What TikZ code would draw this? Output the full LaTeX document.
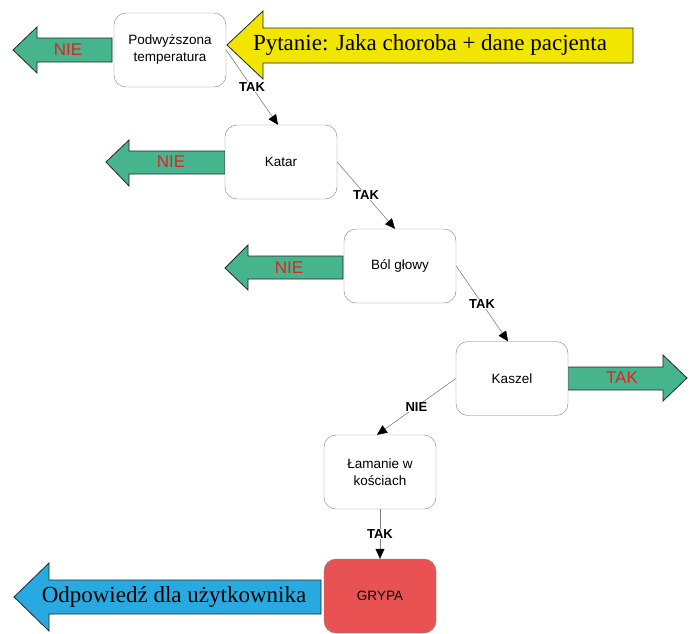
\documentclass[tikz,border=0pt]{standalone}
\usepackage{fontspec}
\setmainfont{Liberation Serif}
\setsansfont{Liberation Sans}
\usetikzlibrary{arrows.meta}

\definecolor{zielony}{RGB}{70,180,140}
\definecolor{czerwony}{RGB}{225,35,35}
\definecolor{zolty}{RGB}{242,230,0}
\definecolor{niebieski}{RGB}{40,170,225}
\definecolor{grypa}{RGB}{232,82,82}

\begin{document}
\begin{tikzpicture}[x=1pt,y=-1pt,
    krok/.style={draw=gray, fill=white, rounded corners=12pt, minimum width=112pt,
        minimum height=74pt, align=center, font=\sffamily\fontsize{13.5}{17}\selectfont},
    strzalka/.style={draw=black!85, line width=0.8pt},
    lacznik/.style={draw=gray, line width=0.6pt, -{Triangle[length=10pt,width=9pt,color=black]}},
    etykieta/.style={fill=white, inner sep=0.5pt, font=\sffamily\bfseries\fontsize{13}{15}\selectfont},
    odp/.style={text=czerwony, font=\sffamily\fontsize{17}{20}\selectfont},
    duzy/.style={font=\fontsize{23}{27}\selectfont}]
    \useasboundingbox (0,0) rectangle (694,633);

    % Question arrow
    \draw[strzalka, fill=zolty] (227,45) -- (263,11) -- (263,28) -- (633,28) -- (633,63) -- (263,63) -- (263,79) -- cycle;
    \node[duzy] (pytanie) at (430,45) {Pytanie: Jaka choroba + dane pacjenta};

    % NIE / TAK arrows
    \draw[strzalka, fill=zielony] (13,50) -- (37,27) -- (37,38) -- (112,38) -- (112,62) -- (37,62) -- (37,73) -- cycle;
    \node[odp] (nie1) at (68,50) {NIE};

    \draw[strzalka, fill=zielony] (106,162) -- (129,140) -- (129,151) -- (225,151) -- (225,174) -- (129,174) -- (129,186) -- cycle;
    \node[odp] (nie2) at (171,162) {NIE};

    \draw[strzalka, fill=zielony] (225,268) -- (248,245) -- (248,256) -- (343,256) -- (343,279) -- (248,279) -- (248,290) -- cycle;
    \node[odp] (nie3) at (289,268) {NIE};

    \draw[strzalka, fill=zielony] (568,367) -- (663,367) -- (663,355) -- (687,378) -- (663,401) -- (663,390) -- (568,390) -- cycle;
    \node[odp] (tak4) at (622,378) {TAK};

    % Answer arrow
    \draw[strzalka, fill=niebieski] (14,597) -- (49,563) -- (49,580) -- (321,580) -- (321,614) -- (49,614) -- (49,631) -- cycle;
    \node[duzy] (odpowiedz) at (174,597) {Odpowiedź dla użytkownika};

    % Steps
    \node[krok] (temperatura) at (170,50) {Podwyższona\\temperatura};
    \node[krok] (katar) at (281,162) {Katar};
    \node[krok] (bol) at (400,266) {Ból głowy};
    \node[krok] (kaszel) at (512,378.5) {Kaszel};
    \node[krok] (lamanie) at (380,472) {Łamanie w\\kościach};
    \node[krok, fill=grypa] (wynik) at (380,596) {GRYPA};

    \draw[lacznik] (temperatura.east) -- node[etykieta]{TAK} ([xshift=-3pt]katar.north);
    \draw[lacznik] (katar.east) -- node[etykieta]{TAK} ([xshift=-5pt]bol.north);
    \draw[lacznik] (bol.east) -- node[etykieta]{TAK} ([xshift=-4pt]kaszel.north);
    \draw[lacznik] (kaszel.west) -- node[etykieta]{NIE} ([xshift=-3pt]lamanie.north);
    \draw[lacznik] (lamanie.south) -- node[etykieta]{TAK} (wynik.north);
\end{tikzpicture}
\end{document}
